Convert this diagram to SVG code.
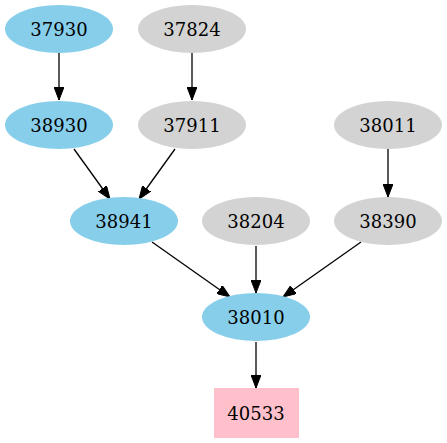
<svg xmlns="http://www.w3.org/2000/svg" width="447" height="443" viewBox="0 0 447 443">
<style>
.blue{fill:#87ceeb;stroke:none}
.gray{fill:#d3d3d3;stroke:none}
.pink{fill:#ffc0cb;stroke:none}
text{font-family:"DejaVu Serif",serif;font-size:18px;text-anchor:middle;fill:#000}
.edge{stroke:#000;stroke-width:1.3;fill:none;marker-end:url(#ah)}
</style>
<defs>
<marker id="ah" markerUnits="userSpaceOnUse" markerWidth="14" markerHeight="10" refX="13" refY="5" orient="auto">
<path d="M0,0 L13,5 L0,10 z" fill="#000" stroke="#000" stroke-width="1"/>
</marker>
</defs>
<g id="edges">
<line class="edge" x1="59" y1="53" x2="59" y2="100"/>
<line class="edge" x1="192" y1="53" x2="192" y2="100"/>
<line class="edge" x1="74" y1="149" x2="110" y2="199"/>
<line class="edge" x1="175" y1="149" x2="139" y2="199"/>
<line class="edge" x1="388" y1="149" x2="388" y2="197"/>
<line class="edge" x1="152" y1="242" x2="230" y2="297"/>
<line class="edge" x1="256" y1="246" x2="256" y2="293"/>
<line class="edge" x1="361" y1="242" x2="283" y2="297"/>
<line class="edge" x1="256" y1="342" x2="256" y2="388"/>
</g>
<g id="n37930"><ellipse class="blue" cx="59" cy="29" rx="54" ry="24"/><text x="59" y="35.5">37930</text></g>
<g id="n37824"><ellipse class="gray" cx="192" cy="29" rx="54" ry="24"/><text x="192" y="35.5">37824</text></g>
<g id="n38930"><ellipse class="blue" cx="59" cy="125" rx="54" ry="24"/><text x="59" y="131.5">38930</text></g>
<g id="n37911"><ellipse class="gray" cx="192" cy="125" rx="54" ry="24"/><text x="192" y="131.5">37911</text></g>
<g id="n38011"><ellipse class="gray" cx="388" cy="125" rx="54" ry="24"/><text x="388" y="131.5">38011</text></g>
<g id="n38941"><ellipse class="blue" cx="124" cy="221" rx="54" ry="24"/><text x="124" y="227.5">38941</text></g>
<g id="n38204"><ellipse class="gray" cx="256" cy="221" rx="54" ry="24"/><text x="256" y="227.5">38204</text></g>
<g id="n38390"><ellipse class="gray" cx="388" cy="221" rx="54" ry="24"/><text x="388" y="227.5">38390</text></g>
<g id="n38010"><ellipse class="blue" cx="256" cy="317" rx="54" ry="24"/><text x="256" y="323.5">38010</text></g>
<g id="n40533"><rect class="pink" x="214" y="388" width="85" height="50"/><text x="256" y="419.5">40533</text></g>
</svg>
